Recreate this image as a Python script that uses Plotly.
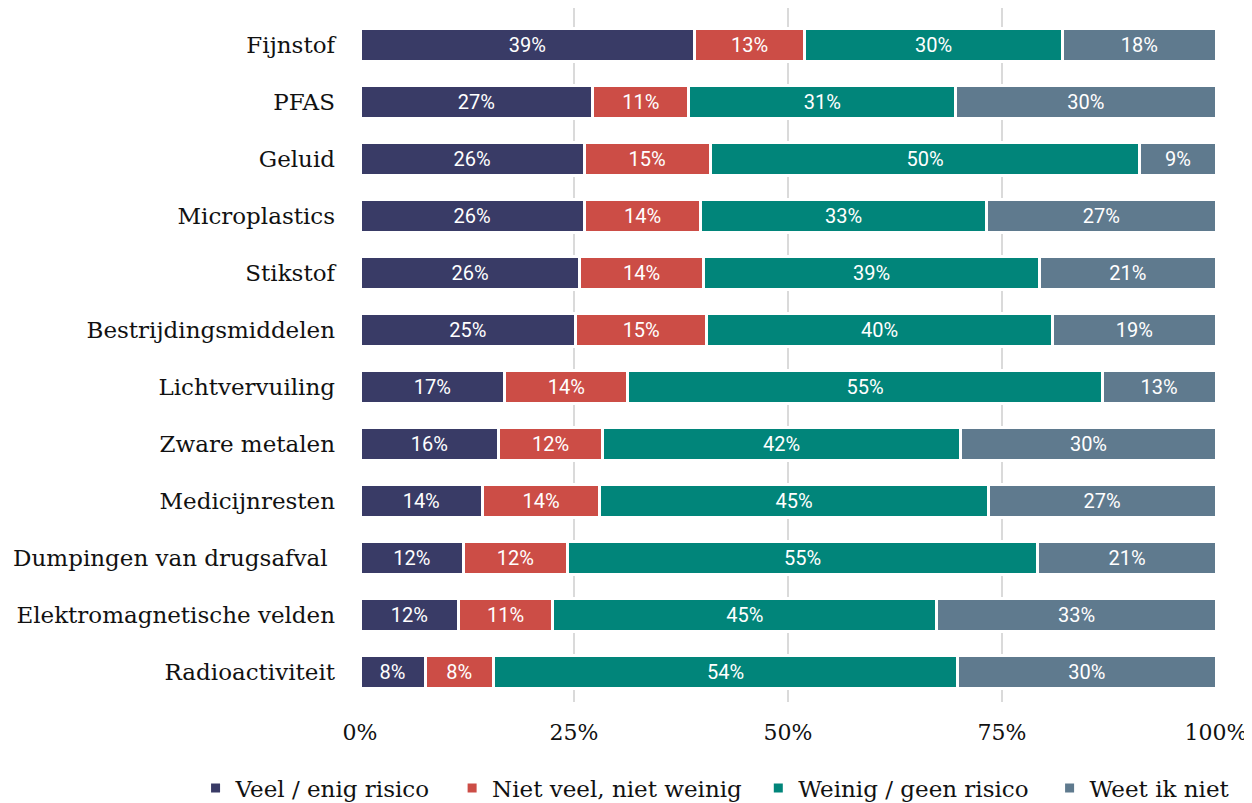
import plotly.graph_objects as go

categories = ["Fijnstof", "PFAS", "Geluid", "Microplastics", "Stikstof",
              "Bestrijdingsmiddelen", "Lichtvervuiling", "Zware metalen",
              "Medicijnresten", "Dumpingen van drugsafval ",
              "Elektromagnetische velden", "Radioactiviteit"]

veel_enig = [39.1, 27.2, 26.2, 26.2, 25.7, 25.2, 16.9, 16.2, 14.3, 12.1, 11.5, 7.6]
niet_veel = [12.8, 11.2, 14.7, 13.6, 14.4, 15.3, 14.4, 12.1, 13.7, 12.1, 11.0, 8.0]
weinig_geen = [30.2, 31.2, 50.2, 33.4, 39.3, 40.4, 55.4, 41.9, 45.4, 55.0, 44.9, 54.2]
weet_niet = [17.9, 30.4, 8.9, 26.8, 20.6, 19.1, 13.3, 29.8, 26.6, 20.8, 32.6, 30.2]

series = [
    ("Veel / enig risico", veel_enig, "#393b66"),
    ("Niet veel, niet weinig", niet_veel, "#cc4d46"),
    ("Weinig / geen risico", weinig_geen, "#01857a"),
    ("Weet ik niet", weet_niet, "#5f7a8e"),
]

x_ticks = [0, 25, 50, 75, 100]
x_ticklabels = ["0%", "25%", "50%", "75%", "100%"]

serif = "DejaVu Serif"

# one legend per series so each entry can sit where it does in the original
legend_ids = ["legend", "legend2", "legend3", "legend4"]
legend_x = [-0.1921, 0.1076, 0.4653, 0.8056]

fig = go.Figure()
for (name, vals, color), lid in zip(series, legend_ids):
    fig.add_trace(go.Bar(
        y=categories, x=vals, name=name, orientation="h",
        marker=dict(color=color, line=dict(color="white", width=3)),
        texttemplate="%{x:.0f}%", textposition="inside",
        insidetextanchor="middle", textangle=0,
        textfont=dict(family="Roboto", size=20, color="white"),
        constraintext="none", legend=lid,
    ))

# figure sits 8px in from the window edge (page body margin)
W, H = 1244, 795
layout_legends = {}
for lid, lx in zip(legend_ids, legend_x):
    layout_legends[lid] = dict(
        orientation="h", xref="paper", yref="paper",
        x=lx, xanchor="left", y=-0.093, yanchor="top",
        font=dict(family=serif, size=23, color="#111111"),
        itemwidth=30, bgcolor="rgba(0,0,0,0)")

fig.update_layout(
    barmode="stack",
    bargap=0.43,
    width=W, height=H,
    margin=dict(l=352, r=36, t=0, b=101, autoexpand=False),
    paper_bgcolor="white", plot_bgcolor="white",
    font=dict(family=serif, color="#111111"),
    xaxis=dict(range=[0, 100], tickvals=x_ticks, ticktext=x_ticklabels,
               showgrid=True, gridcolor="#dadada", gridwidth=2,
               zeroline=False, showline=False,
               tickfont=dict(family=serif, size=22, color="#111111"),
               ticks="", ticklabelstandoff=15),
    yaxis=dict(categoryorder="array", categoryarray=categories,
               range=[11.526, -0.649], showgrid=False,
               tickfont=dict(family=serif, size=23, color="#111111"),
               ticks="", ticklabelstandoff=24),
    showlegend=True,
    **layout_legends,
)

fig.write_html("out.html")
